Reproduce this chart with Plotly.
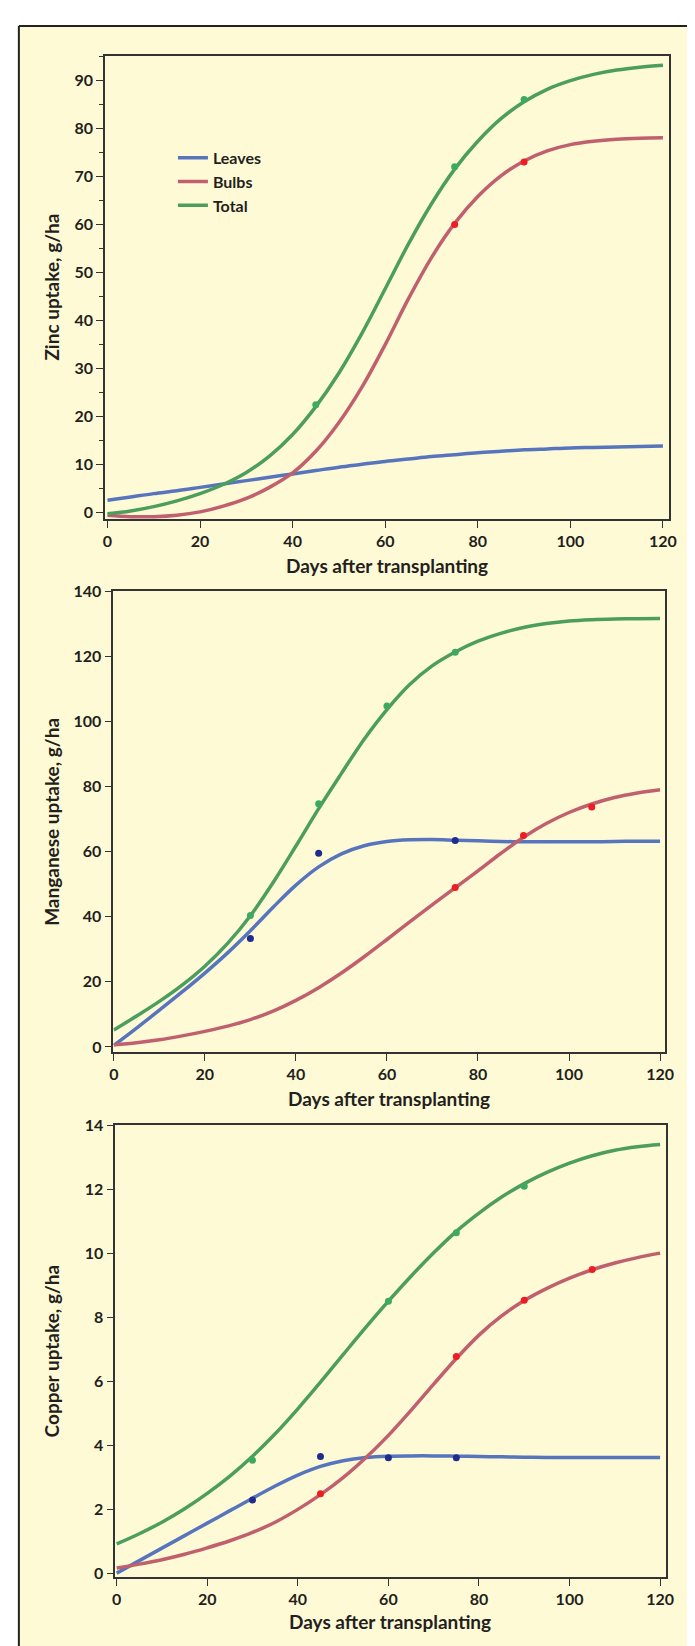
import plotly.graph_objects as go

W, H = 695, 1646

days = [0, 5, 10, 15, 20, 25, 30, 35, 40, 45, 50, 55, 60, 65, 70, 75, 80, 85, 90, 95, 100, 105, 110, 115, 120]
x_ticks = [0, 20, 40, 60, 80, 100, 120]

# ---- Zinc ----
zn_leaves = [2.6, 3.3, 4.0, 4.6, 5.3, 6.0, 6.7, 7.4, 8.1, 8.8, 9.5, 10.1, 10.7, 11.2, 11.7, 12.1, 12.5, 12.8, 13.1, 13.3, 13.5, 13.6, 13.7, 13.8, 13.9]
zn_bulbs = [-0.5, -0.8, -0.8, -0.5, 0.2, 1.4, 3.0, 5.3, 8.3, 12.8, 18.8, 26.2, 35.0, 44.5, 53.1, 60.2, 65.8, 70.1, 73.2, 75.3, 76.6, 77.3, 77.7, 77.9, 78.0]
zn_total = [-0.2, 0.4, 1.3, 2.5, 4.0, 5.9, 8.4, 11.8, 16.3, 22.1, 29.1, 37.4, 46.6, 55.9, 64.3, 71.5, 77.3, 82.0, 85.5, 88.1, 89.9, 91.2, 92.1, 92.7, 93.1]
zn_total_pts_x = [45, 75, 90]
zn_total_pts_y = [22.5, 72.0, 86.0]
zn_bulbs_pts_x = [75, 90]
zn_bulbs_pts_y = [60.0, 73.0]
zn_y_ticks = [0, 10, 20, 30, 40, 50, 60, 70, 80, 90]

# ---- Manganese ----
mn_leaves = [0.5, 5.8, 11.3, 16.9, 22.7, 28.9, 35.7, 42.9, 49.7, 55.3, 59.3, 61.8, 63.1, 63.6, 63.7, 63.5, 63.3, 63.1, 63.0, 63.0, 63.0, 63.0, 63.1, 63.2, 63.2]
mn_bulbs = [0.7, 1.3, 2.2, 3.4, 4.8, 6.4, 8.4, 11.0, 14.3, 18.2, 22.7, 27.7, 33.0, 38.4, 43.7, 48.9, 54.1, 59.4, 64.4, 68.6, 72.0, 74.6, 76.6, 78.0, 79.0]
mn_total = [5.2, 9.5, 14.0, 19.0, 24.8, 31.8, 40.3, 50.5, 61.7, 73.2, 84.0, 94.5, 103.6, 111.3, 117.1, 121.3, 124.6, 127.0, 128.8, 130.0, 130.8, 131.2, 131.4, 131.5, 131.6]
mn_leaves_pts_x = [30, 45, 75]
mn_leaves_pts_y = [33.3, 59.5, 63.4]
mn_bulbs_pts_x = [75, 90, 105]
mn_bulbs_pts_y = [49.0, 64.9, 73.7]
mn_total_pts_x = [30, 45, 60, 75]
mn_total_pts_y = [40.4, 74.7, 104.7, 121.2]
mn_y_ticks = [0, 20, 40, 60, 80, 100, 120, 140]

# ---- Copper ----
cu_leaves = [0.02, 0.41, 0.80, 1.19, 1.58, 1.97, 2.36, 2.74, 3.08, 3.35, 3.53, 3.63, 3.67, 3.68, 3.68, 3.67, 3.66, 3.65, 3.64, 3.63, 3.63, 3.63, 3.63, 3.63, 3.63]
cu_bulbs = [0.18, 0.30, 0.44, 0.61, 0.81, 1.03, 1.29, 1.61, 2.01, 2.47, 3.00, 3.62, 4.32, 5.10, 5.92, 6.72, 7.45, 8.05, 8.53, 8.91, 9.23, 9.49, 9.70, 9.87, 10.01]
cu_total = [0.93, 1.25, 1.61, 2.03, 2.51, 3.05, 3.67, 4.37, 5.15, 5.98, 6.84, 7.69, 8.51, 9.29, 10.02, 10.69, 11.26, 11.76, 12.18, 12.53, 12.82, 13.05, 13.22, 13.33, 13.40]
cu_leaves_pts_x = [30, 45, 60, 75]
cu_leaves_pts_y = [2.30, 3.66, 3.62, 3.62]
cu_bulbs_pts_x = [45, 75, 90, 105]
cu_bulbs_pts_y = [2.50, 6.78, 8.54, 9.50]
cu_total_pts_x = [30, 60, 75, 90]
cu_total_pts_y = [3.54, 8.51, 10.65, 12.10]
cu_y_ticks = [0, 2, 4, 6, 8, 10, 12, 14]

series_names = ["Leaves", "Bulbs", "Total"]
x_title = "Days after transplanting"
y_titles = ["Zinc uptake, g/ha", "Manganese uptake, g/ha", "Copper uptake, g/ha"]

LINE_COL = {"Leaves": "#5775BD", "Bulbs": "#C0606E", "Total": "#4C9E5E"}
DOT_COL = {"Leaves": "#1F2B8F", "Bulbs": "#F01C24", "Total": "#3DAA63"}

FONT = "Lato"
TXT = "#231F20"
AX = "#333333"

# panel geometry in pixels: (left, right, top, bottom)
panels = [
    (94.7, 669.5, 38.0, 505.7),
    (103.3, 665.5, 578.3, 1043.7),
    (105.3, 666.0, 1117.5, 1573.3),
]
x_ranges = [[-0.55, 121.3], [-0.1, 121.1], [-0.3, 121.2]]
y_ranges = [[-1.3, 95.1], [-1.6, 140], [-0.1, 14.0]]
y_tick_sets = [zn_y_ticks, mn_y_ticks, cu_y_ticks]

curves = [
    {"Leaves": zn_leaves, "Bulbs": zn_bulbs, "Total": zn_total},
    {"Leaves": mn_leaves, "Bulbs": mn_bulbs, "Total": mn_total},
    {"Leaves": cu_leaves, "Bulbs": cu_bulbs, "Total": cu_total},
]
points = [
    {"Total": (zn_total_pts_x, zn_total_pts_y), "Bulbs": (zn_bulbs_pts_x, zn_bulbs_pts_y)},
    {"Leaves": (mn_leaves_pts_x, mn_leaves_pts_y), "Bulbs": (mn_bulbs_pts_x, mn_bulbs_pts_y),
     "Total": (mn_total_pts_x, mn_total_pts_y)},
    {"Leaves": (cu_leaves_pts_x, cu_leaves_pts_y), "Bulbs": (cu_bulbs_pts_x, cu_bulbs_pts_y),
     "Total": (cu_total_pts_x, cu_total_pts_y)},
]


def px_x(p):
    return p / W


def px_y(p):
    return 1 - p / H


fig = go.Figure()

for i in range(3):
    suffix = "" if i == 0 else str(i + 1)
    xa, ya = "x" + suffix, "y" + suffix
    for name in series_names:
        fig.add_trace(go.Scatter(
            x=days, y=curves[i][name], mode="lines", name=name,
            line=dict(color=LINE_COL[name], width=3.5, shape="spline", smoothing=1.0),
            xaxis=xa, yaxis=ya, showlegend=(i == 0), legendgroup=name,
        ))
    for name in series_names:
        if name in points[i]:
            px_, py_ = points[i][name]
            fig.add_trace(go.Scatter(
                x=px_, y=py_, mode="markers",
                marker=dict(color=DOT_COL[name], size=7),
                xaxis=xa, yaxis=ya, showlegend=False,
            ))

layout = dict(
    width=W, height=H,
    margin=dict(l=0, r=0, t=0, b=0),
    paper_bgcolor="white",
    plot_bgcolor="white",
    font=dict(family=FONT, color=TXT, size=16),
    showlegend=True,
    legend=dict(
        x=px_x(164), y=px_y(124), xanchor="left", yanchor="top",
        bgcolor="rgba(0,0,0,0)", borderwidth=0,
        font=dict(family=FONT, size=16, color=TXT, weight="bold"),
        itemwidth=30, tracegroupgap=0,
    ),
)

annotations = []
for i in range(3):
    l, r, t, b = panels[i]
    suffix = "" if i == 0 else str(i + 1)
    xkey = "xaxis" + suffix
    ykey = "yaxis" + suffix
    layout[xkey] = dict(
        domain=[px_x(l), px_x(r)], range=x_ranges[i], anchor="y" + suffix,
        tickvals=x_ticks, ticks="outside", ticklen=7, tickwidth=1.3, tickcolor=AX,
        showline=True, linecolor=AX, linewidth=1.5, mirror=True,
        showgrid=False, zeroline=False,
        tickfont=dict(family=FONT, size=16, color=TXT, weight="bold"),
    )
    ydict = dict(
        domain=[px_y(b), px_y(t)], range=y_ranges[i], anchor="x" + suffix,
        tickvals=y_tick_sets[i], ticks="outside", ticklen=7, tickwidth=1.3, tickcolor=AX,
        showline=True, linecolor=AX, linewidth=1.5, mirror=True,
        showgrid=False, zeroline=False,
        tickfont=dict(family=FONT, size=16, color=TXT, weight="bold"),
    )
    if i == 0:
        ydict["minor"] = dict(dtick=5, tick0=0, ticks="outside", ticklen=4, tickcolor=AX, tickwidth=1.2, showgrid=False)
    layout[ykey] = ydict

    title_y = [553, 1090, 1618][i]
    annotations.append(dict(
        text=x_title, x=px_x((l + r) / 2), y=px_y(title_y), xref="paper", yref="paper",
        xanchor="center", yanchor="middle", showarrow=False,
        font=dict(family=FONT, size=19, color=TXT, weight="bold"),
    ))
    annotations.append(dict(
        text=y_titles[i], x=px_x(40), y=px_y((t + b) / 2), xref="paper", yref="paper",
        xanchor="center", yanchor="middle", showarrow=False, textangle=-90,
        font=dict(family=FONT, size=19, color=TXT, weight="bold"),
    ))

layout["annotations"] = annotations
layout["shapes"] = [
    dict(type="rect", xref="paper", yref="paper", x0=px_x(7), x1=1, y0=0, y1=px_y(8),
         fillcolor="#FFFAD6", line=dict(width=0), layer="below"),
    dict(type="line", xref="paper", yref="paper", x0=px_x(7), x1=1, y0=px_y(8), y1=px_y(8),
         line=dict(color="#222222", width=2)),
    dict(type="line", xref="paper", yref="paper", x0=px_x(7), x1=px_x(7), y0=0, y1=px_y(8),
         line=dict(color="#222222", width=2)),
]

fig.update_layout(**layout)
fig.write_html("out.html")
